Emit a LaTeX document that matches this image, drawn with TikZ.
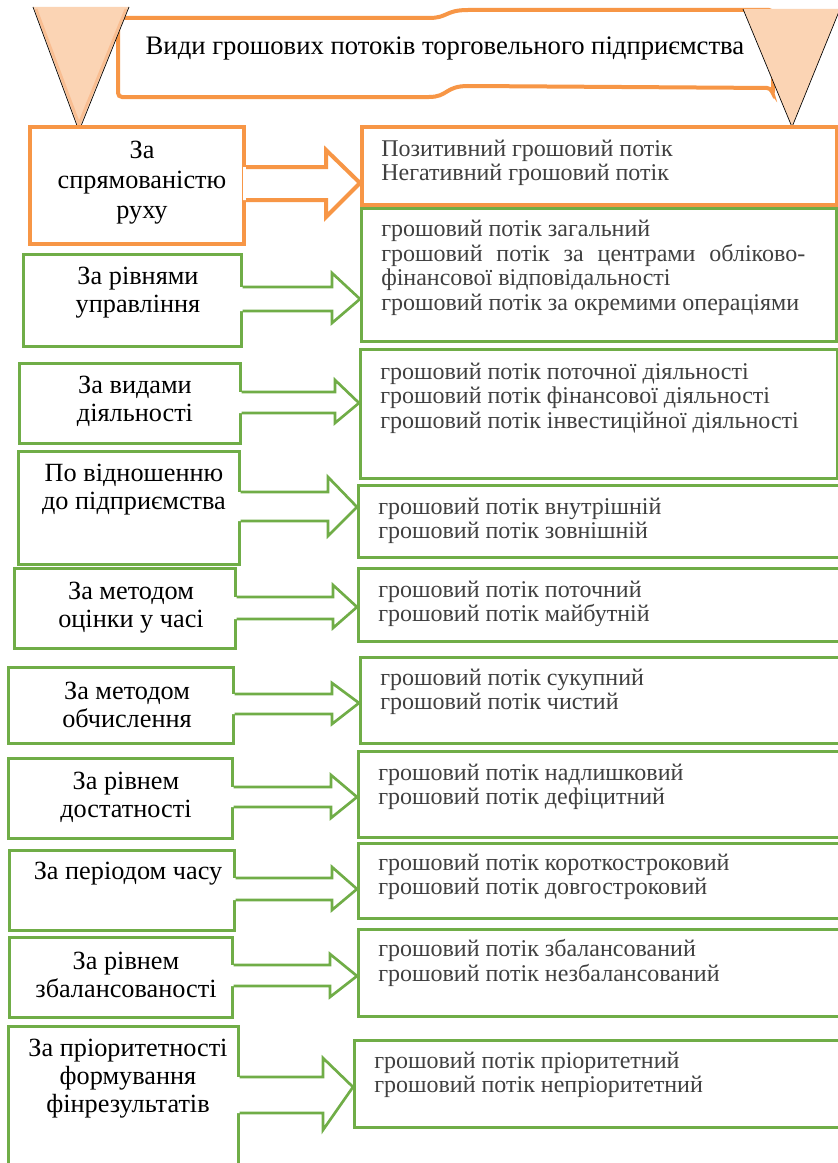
\documentclass[tikz,border=0pt]{standalone}
\usepackage{fontspec}
\setmainfont{Liberation Serif}
\usetikzlibrary{calc}
\definecolor{org}{HTML}{F79646}
\definecolor{grn}{HTML}{70AD47}
\definecolor{peach}{HTML}{FBD4B4}
\definecolor{peachline}{HTML}{F9BE92}
\definecolor{txtg}{HTML}{404040}
\tikzset{
 obox/.style={draw=org, line width=3pt, fill=white, inner sep=0pt, anchor=north west},
 gbox/.style={draw=grn, line width=2pt, fill=white, inner sep=0pt, anchor=north west},
 ltext/.style={font=\fontsize{19.7}{21}\selectfont, align=center, text=black, inner sep=0pt},
 ltextbig/.style={font=\fontsize{19.7}{22.5}\selectfont, align=center, text=black, inner sep=0pt},
 rtext/.style={font=\fontsize{18}{18.4}\selectfont, align=left, text=txtg, inner sep=0pt, anchor=west},
 oarrow/.style={draw=org, line width=3pt, line join=miter, line cap=butt},
 garrow/.style={draw=grn, line width=2pt, line join=miter, line cap=butt},
 ribbon/.style={draw=org, line width=3pt, fill=white, rounded corners=3pt},
 tri/.style={fill=peach},
 triedge/.style={draw=black, line width=0.5pt},
 triinner/.style={draw=peachline, line width=2pt},
}
\newcommand\mybox[6]{\node[#1, minimum width={(#5-#3)*0.75pt}, minimum height={(#6-#4)*0.75pt}] (#2) at (#3,#4) {};}
% style, from, to, ys1, ys2, yh1, yh2, xb, ym
\newcommand\blockarr[9]{%
 \fill[white] ($(#2.east |- 0,#4)+(-3,0)$) -- (#8,#4) -- (#8,#6) -- (#3.west |- 0,#9) -- (#8,#7) -- (#8,#5) -- ($(#2.east |- 0,#5)+(-3,0)$) -- cycle;
 \draw[#1] (#2.east |- 0,#4) -- (#8,#4) -- (#8,#6) -- (#3.west |- 0,#9) -- (#8,#7) -- (#8,#5) -- (#2.east |- 0,#5);}
\begin{document}
\begin{tikzpicture}[x=0.75pt,y=-0.75pt]
\useasboundingbox (0,0) rectangle (838,1163);
\fill[white] (0,0) rectangle (838,1163);
\clip (0,0) rectangle (838,1163);

% ---- title banner ----
\draw[ribbon] (118,18) -- (425,18) .. controls (448,18) and (445,10) .. (472,10) -- (773,10) -- (773,95)
  -- (771,88) -- (472,86) .. controls (445,86) and (448,97) .. (425,97) -- (118,97) -- cycle;
\node[font=\fontsize{20}{22}\selectfont, inner sep=0pt] (title) at (445,49) {Види грошових потоків торговельного підприємства};
\fill[tri] (33,7) -- (129,7) -- (79,131) -- cycle;
\draw[triinner] (36,9) -- (79,124) -- (126,9);
\draw[triedge] (33,7) -- (79,131) -- (129,7);
\fill[tri] (743,9) -- (840,9) -- (792,127) -- cycle;
\draw[triedge] (743,9) -- (792,127) -- (840,9);

% ---- boxes ----
\mybox{obox}{l1}{28}{125}{242}{242}
\mybox{obox}{r1}{360}{125}{835}{203}
\mybox{gbox}{r2}{360}{207}{835}{340}
\mybox{gbox}{l2}{22}{253}{240}{345}
\mybox{gbox}{r3}{359}{348}{836}{477}
\mybox{gbox}{l3}{18}{362}{239}{442}
\mybox{gbox}{l4}{17}{450}{238}{563}
\mybox{gbox}{r4}{357}{484}{845}{556}
\mybox{gbox}{l5}{13}{567}{234}{647}
\mybox{gbox}{r5}{357}{567}{845}{640}
\mybox{gbox}{l6}{7}{666}{232}{742}
\mybox{gbox}{r6}{359}{656}{845}{742}
\mybox{gbox}{l7}{7}{757}{231}{837}
\mybox{gbox}{r7}{357}{750}{845}{836}
\mybox{gbox}{l8}{8}{849}{233}{929}
\mybox{gbox}{r8}{357}{842}{845}{917}
\mybox{gbox}{l9}{8}{936}{231}{1016}
\mybox{gbox}{r9}{357}{928}{845}{1015}
\mybox{gbox}{l10}{7}{1025}{237}{1180}
\mybox{gbox}{r10}{353}{1039}{845}{1126}

% ---- left texts ----
\node[ltextbig] (l1t) at (142,183) {За\\спрямованістю\\руху};
\node[ltext] (l2t) at (138,293) {За рівнями\\управління};
\node[ltext] (l3t) at (135,401) {За видами\\діяльності};
\node[ltext] (l4t) at (134,490) {По відношенню\\до підприємства};
\node[ltext] (l5t) at (131,608) {За методом\\оцінки у часі};
\node[ltext] (l6t) at (127,705) {За методом\\обчислення};
\node[ltext] (l7t) at (126,797) {За рівнем\\достатності};
\node[ltext] (l8t) at (128,874) {За періодом часу};
\node[ltext] (l9t) at (126,975) {За рівнем\\збалансованості};
\node[ltext] (l10t) at (128,1079) {За пріоритетності\\формування\\фінрезультатів};

% ---- right texts ----
\node[rtext] (r1t) at (381,163) {Позитивний грошовий потік\\Негативний грошовий потік};
\node[rtext] (r2t) at (381,268) {грошовий потік загальний\\\makebox[318pt][s]{грошовий потік за центрами обліково-}\\фінансової відповідальності\\грошовий потік за окремими операціями};
\node[rtext] (r3t) at (380,398) {грошовий потік поточної діяльності\\грошовий потік фінансової діяльності\\грошовий потік інвестиційної діяльності};
\node[rtext] (r4t) at (378,521) {грошовий потік внутрішній\\грошовий потік зовнішній};
\node[rtext] (r5t) at (378,604) {грошовий потік поточний\\грошовий потік майбутній};
\node[rtext] (r6t) at (380,692) {грошовий потік сукупний\\грошовий потік чистий};
\node[rtext] (r7t) at (378,787) {грошовий потік надлишковий\\грошовий потік дефіцитний};
\node[rtext] (r8t) at (378,877) {грошовий потік короткостроковий\\грошовий потік довгостроковий};
\node[rtext] (r9t) at (378,963) {грошовий потік збалансований\\грошовий потік незбалансований};
\node[rtext] (r10t) at (374,1075) {грошовий потік пріоритетний\\грошовий потік непріоритетний};

% ---- block arrows ----
\blockarr{oarrow}{l1}{r1}{167}{200}{150}{217}{326}{183}
\blockarr{garrow}{l2}{r2}{287}{311}{273}{323}{332}{299}
\blockarr{garrow}{l3}{r3}{392}{413}{380}{423}{335}{403}
\blockarr{garrow}{l4}{r4}{492}{521}{477}{536}{328}{507}
\blockarr{garrow}{l5}{r5}{597}{619}{585}{628}{333}{607}
\blockarr{garrow}{l6}{r6}{694}{714}{683}{724}{332}{703}
\blockarr{garrow}{l7}{r7}{787}{807}{775}{818}{331}{797}
\blockarr{garrow}{l8}{r8}{878}{900}{867}{910}{332}{889}
\blockarr{garrow}{l9}{r9}{965}{986}{954}{997}{330}{976}
\blockarr{garrow}{l10}{r10}{1077}{1113}{1058}{1130}{323}{1087}
\end{tikzpicture}
\end{document}
